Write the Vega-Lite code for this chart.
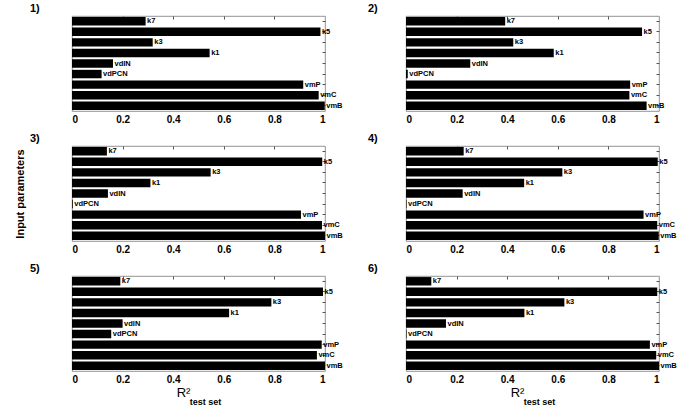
{
  "$schema": "https://vega.github.io/schema/vega-lite/v6.json",
  "background": "white",
  "padding": {"left": 13, "top": 2, "right": 0, "bottom": 0},
  "config": {
    "font": "Liberation Sans",
    "view": {"stroke": "#777777", "strokeWidth": 0.8},
    "axis": {"domain": false, "grid": false, "labelColor": "black", "titleColor": "black", "tickColor": "#555555"},
    "title": {"fontSize": 11, "fontWeight": "bold", "anchor": "start", "frame": "group", "offset": 2, "color": "black"}
  },
  "datasets": {
    "d": [
      {"panel": 1, "param": "k7", "r2": 0.291}, {"panel": 1, "param": "k5", "r2": 0.982}, {"panel": 1, "param": "k3", "r2": 0.319},
      {"panel": 1, "param": "k1", "r2": 0.544}, {"panel": 1, "param": "vdIN", "r2": 0.162}, {"panel": 1, "param": "vdPCN", "r2": 0.117},
      {"panel": 1, "param": "vmP", "r2": 0.914}, {"panel": 1, "param": "vmC", "r2": 0.975}, {"panel": 1, "param": "vmB", "r2": 0.999},
      {"panel": 2, "param": "k7", "r2": 0.392}, {"panel": 2, "param": "k5", "r2": 0.933}, {"panel": 2, "param": "k3", "r2": 0.424},
      {"panel": 2, "param": "k1", "r2": 0.584}, {"panel": 2, "param": "vdIN", "r2": 0.254}, {"panel": 2, "param": "vdPCN", "r2": 0.007},
      {"panel": 2, "param": "vmP", "r2": 0.886}, {"panel": 2, "param": "vmC", "r2": 0.883}, {"panel": 2, "param": "vmB", "r2": 0.951},
      {"panel": 3, "param": "k7", "r2": 0.138}, {"panel": 3, "param": "k5", "r2": 0.989}, {"panel": 3, "param": "k3", "r2": 0.548},
      {"panel": 3, "param": "k1", "r2": 0.31}, {"panel": 3, "param": "vdIN", "r2": 0.142}, {"panel": 3, "param": "vdPCN", "r2": 0.003},
      {"panel": 3, "param": "vmP", "r2": 0.905}, {"panel": 3, "param": "vmC", "r2": 0.988}, {"panel": 3, "param": "vmB", "r2": 1.0},
      {"panel": 4, "param": "k7", "r2": 0.228}, {"panel": 4, "param": "k5", "r2": 0.995}, {"panel": 4, "param": "k3", "r2": 0.618},
      {"panel": 4, "param": "k1", "r2": 0.467}, {"panel": 4, "param": "vdIN", "r2": 0.224}, {"panel": 4, "param": "vdPCN", "r2": 0.002},
      {"panel": 4, "param": "vmP", "r2": 0.939}, {"panel": 4, "param": "vmC", "r2": 0.993}, {"panel": 4, "param": "vmB", "r2": 0.999},
      {"panel": 5, "param": "k7", "r2": 0.191}, {"panel": 5, "param": "k5", "r2": 0.992}, {"panel": 5, "param": "k3", "r2": 0.788},
      {"panel": 5, "param": "k1", "r2": 0.621}, {"panel": 5, "param": "vdIN", "r2": 0.2}, {"panel": 5, "param": "vdPCN", "r2": 0.155},
      {"panel": 5, "param": "vmP", "r2": 0.987}, {"panel": 5, "param": "vmC", "r2": 0.968}, {"panel": 5, "param": "vmB", "r2": 1.0},
      {"panel": 6, "param": "k7", "r2": 0.1}, {"panel": 6, "param": "k5", "r2": 0.993}, {"panel": 6, "param": "k3", "r2": 0.626},
      {"panel": 6, "param": "k1", "r2": 0.468}, {"panel": 6, "param": "vdIN", "r2": 0.158}, {"panel": 6, "param": "vdPCN", "r2": 0.002},
      {"panel": 6, "param": "vmP", "r2": 0.964}, {"panel": 6, "param": "vmC", "r2": 0.989}, {"panel": 6, "param": "vmB", "r2": 1.0}
    ]
  },
  "columns": 2,
  "bounds": "flush",
  "spacing": {"row": 35, "column": 81},
  "concat": [
    {
      "width": 253, "height": 95,
      "title": {"text": "1)", "dx": -42},
      "data": {"name": "d"},
      "transform": [{"filter": "datum.panel == 1"}],
      "layer": [
        {"mark": {"type": "bar", "color": "black"},
         "encoding": {
           "x": {"field": "r2", "type": "quantitative", "scale": {"domain": [0, 1], "nice": false}, "axis": {"orient": "bottom", "values": [0, 0.2, 0.4, 0.6, 0.8, 1], "format": "~g", "labelFontSize": 10, "labelFontWeight": "bold", "ticks": false, "labelPadding": 3, "title": null}},
           "y": {"field": "param", "type": "nominal", "sort": ["k7", "k5", "k3", "k1", "vdIN", "vdPCN", "vmP", "vmC", "vmB"], "scale": {"paddingInner": 0.2, "paddingOuter": 0.1}, "axis": null}}},
        {"mark": {"type": "text", "align": "left", "baseline": "middle", "dx": 1.5, "fontSize": 7.5, "fontWeight": "bold", "color": "black"},
         "encoding": {
           "text": {"field": "param"},
           "x": {"field": "r2", "type": "quantitative", "scale": {"domain": [0, 1], "nice": false}, "axis": {"orient": "top", "values": [0.2, 0.4, 0.6, 0.8], "labels": false, "tickSize": -3, "title": null}},
           "y": {"field": "param", "type": "nominal", "sort": ["k7", "k5", "k3", "k1", "vdIN", "vdPCN", "vmP", "vmC", "vmB"], "scale": {"paddingInner": 0.2, "paddingOuter": 0.1}, "axis": {"orient": "right", "labels": false, "tickSize": -3, "title": null}}}}
      ],
      "resolve": {"axis": {"x": "independent", "y": "independent"}}
    },
    {
      "width": 253, "height": 95,
      "title": {"text": "2)", "dx": -38},
      "data": {"name": "d"},
      "transform": [{"filter": "datum.panel == 2"}],
      "layer": [
        {"mark": {"type": "bar", "color": "black"},
         "encoding": {
           "x": {"field": "r2", "type": "quantitative", "scale": {"domain": [0, 1], "nice": false}, "axis": {"orient": "bottom", "values": [0, 0.2, 0.4, 0.6, 0.8, 1], "format": "~g", "labelFontSize": 10, "labelFontWeight": "bold", "ticks": false, "labelPadding": 3, "title": null}},
           "y": {"field": "param", "type": "nominal", "sort": ["k7", "k5", "k3", "k1", "vdIN", "vdPCN", "vmP", "vmC", "vmB"], "scale": {"paddingInner": 0.2, "paddingOuter": 0.1}, "axis": null}}},
        {"mark": {"type": "text", "align": "left", "baseline": "middle", "dx": 1.5, "fontSize": 7.5, "fontWeight": "bold", "color": "black"},
         "encoding": {
           "text": {"field": "param"},
           "x": {"field": "r2", "type": "quantitative", "scale": {"domain": [0, 1], "nice": false}, "axis": {"orient": "top", "values": [0.2, 0.4, 0.6, 0.8], "labels": false, "tickSize": -3, "title": null}},
           "y": {"field": "param", "type": "nominal", "sort": ["k7", "k5", "k3", "k1", "vdIN", "vdPCN", "vmP", "vmC", "vmB"], "scale": {"paddingInner": 0.2, "paddingOuter": 0.1}, "axis": {"orient": "right", "labels": false, "tickSize": -3, "title": null}}}}
      ],
      "resolve": {"axis": {"x": "independent", "y": "independent"}}
    },
    {
      "width": 253, "height": 95,
      "title": {"text": "3)", "dx": -42},
      "data": {"name": "d"},
      "transform": [{"filter": "datum.panel == 3"}],
      "layer": [
        {"mark": {"type": "bar", "color": "black"},
         "encoding": {
           "x": {"field": "r2", "type": "quantitative", "scale": {"domain": [0, 1], "nice": false}, "axis": {"orient": "bottom", "values": [0, 0.2, 0.4, 0.6, 0.8, 1], "format": "~g", "labelFontSize": 10, "labelFontWeight": "bold", "ticks": false, "labelPadding": 3, "title": null}},
           "y": {"field": "param", "type": "nominal", "sort": ["k7", "k5", "k3", "k1", "vdIN", "vdPCN", "vmP", "vmC", "vmB"], "scale": {"paddingInner": 0.2, "paddingOuter": 0.1}, "axis": {"orient": "left", "labels": false, "ticks": false, "title": "Input parameters", "titleFontSize": 11, "titleFontWeight": "bold", "titlePadding": 47}}}},
        {"mark": {"type": "text", "align": "left", "baseline": "middle", "dx": 1.5, "fontSize": 7.5, "fontWeight": "bold", "color": "black"},
         "encoding": {
           "text": {"field": "param"},
           "x": {"field": "r2", "type": "quantitative", "scale": {"domain": [0, 1], "nice": false}, "axis": {"orient": "top", "values": [0.2, 0.4, 0.6, 0.8], "labels": false, "tickSize": -3, "title": null}},
           "y": {"field": "param", "type": "nominal", "sort": ["k7", "k5", "k3", "k1", "vdIN", "vdPCN", "vmP", "vmC", "vmB"], "scale": {"paddingInner": 0.2, "paddingOuter": 0.1}, "axis": {"orient": "right", "labels": false, "tickSize": -3, "title": null}}}}
      ],
      "resolve": {"axis": {"x": "independent", "y": "independent"}}
    },
    {
      "width": 253, "height": 95,
      "title": {"text": "4)", "dx": -38},
      "data": {"name": "d"},
      "transform": [{"filter": "datum.panel == 4"}],
      "layer": [
        {"mark": {"type": "bar", "color": "black"},
         "encoding": {
           "x": {"field": "r2", "type": "quantitative", "scale": {"domain": [0, 1], "nice": false}, "axis": {"orient": "bottom", "values": [0, 0.2, 0.4, 0.6, 0.8, 1], "format": "~g", "labelFontSize": 10, "labelFontWeight": "bold", "ticks": false, "labelPadding": 3, "title": null}},
           "y": {"field": "param", "type": "nominal", "sort": ["k7", "k5", "k3", "k1", "vdIN", "vdPCN", "vmP", "vmC", "vmB"], "scale": {"paddingInner": 0.2, "paddingOuter": 0.1}, "axis": null}}},
        {"mark": {"type": "text", "align": "left", "baseline": "middle", "dx": 1.5, "fontSize": 7.5, "fontWeight": "bold", "color": "black"},
         "encoding": {
           "text": {"field": "param"},
           "x": {"field": "r2", "type": "quantitative", "scale": {"domain": [0, 1], "nice": false}, "axis": {"orient": "top", "values": [0.2, 0.4, 0.6, 0.8], "labels": false, "tickSize": -3, "title": null}},
           "y": {"field": "param", "type": "nominal", "sort": ["k7", "k5", "k3", "k1", "vdIN", "vdPCN", "vmP", "vmC", "vmB"], "scale": {"paddingInner": 0.2, "paddingOuter": 0.1}, "axis": {"orient": "right", "labels": false, "tickSize": -3, "title": null}}}}
      ],
      "resolve": {"axis": {"x": "independent", "y": "independent"}}
    },
    {
      "width": 253, "height": 95,
      "title": {"text": "5)", "dx": -42},
      "data": {"name": "d"},
      "transform": [{"filter": "datum.panel == 5"}],
      "layer": [
        {"mark": {"type": "bar", "color": "black"},
         "encoding": {
           "x": {"field": "r2", "type": "quantitative", "scale": {"domain": [0, 1], "nice": false}, "axis": {"orient": "bottom", "values": [0, 0.2, 0.4, 0.6, 0.8, 1], "format": "~g", "labelFontSize": 10, "labelFontWeight": "bold", "ticks": false, "labelPadding": 3, "title": "R²", "titleFontSize": 13, "titleFontWeight": "normal", "titleX": 111, "titleY": 25, "titleBaseline": "alphabetic", "titleAlign": "center"}},
           "y": {"field": "param", "type": "nominal", "sort": ["k7", "k5", "k3", "k1", "vdIN", "vdPCN", "vmP", "vmC", "vmB"], "scale": {"paddingInner": 0.2, "paddingOuter": 0.1}, "axis": null}}},
        {"mark": {"type": "text", "align": "left", "baseline": "middle", "dx": 1.5, "fontSize": 7.5, "fontWeight": "bold", "color": "black"},
         "encoding": {
           "text": {"field": "param"},
           "x": {"field": "r2", "type": "quantitative", "scale": {"domain": [0, 1], "nice": false}, "axis": {"orient": "top", "values": [0.2, 0.4, 0.6, 0.8], "labels": false, "tickSize": -3, "title": "test set", "titleFontSize": 9, "titleFontWeight": "bold", "titleX": 133, "titleY": 128, "titleBaseline": "alphabetic", "titleAlign": "center"}},
           "y": {"field": "param", "type": "nominal", "sort": ["k7", "k5", "k3", "k1", "vdIN", "vdPCN", "vmP", "vmC", "vmB"], "scale": {"paddingInner": 0.2, "paddingOuter": 0.1}, "axis": {"orient": "right", "labels": false, "tickSize": -3, "title": null}}}}
      ],
      "resolve": {"axis": {"x": "independent", "y": "independent"}}
    },
    {
      "width": 253, "height": 95,
      "title": {"text": "6)", "dx": -38},
      "data": {"name": "d"},
      "transform": [{"filter": "datum.panel == 6"}],
      "layer": [
        {"mark": {"type": "bar", "color": "black"},
         "encoding": {
           "x": {"field": "r2", "type": "quantitative", "scale": {"domain": [0, 1], "nice": false}, "axis": {"orient": "bottom", "values": [0, 0.2, 0.4, 0.6, 0.8, 1], "format": "~g", "labelFontSize": 10, "labelFontWeight": "bold", "ticks": false, "labelPadding": 3, "title": "R²", "titleFontSize": 13, "titleFontWeight": "normal", "titleX": 111, "titleY": 25, "titleBaseline": "alphabetic", "titleAlign": "center"}},
           "y": {"field": "param", "type": "nominal", "sort": ["k7", "k5", "k3", "k1", "vdIN", "vdPCN", "vmP", "vmC", "vmB"], "scale": {"paddingInner": 0.2, "paddingOuter": 0.1}, "axis": null}}},
        {"mark": {"type": "text", "align": "left", "baseline": "middle", "dx": 1.5, "fontSize": 7.5, "fontWeight": "bold", "color": "black"},
         "encoding": {
           "text": {"field": "param"},
           "x": {"field": "r2", "type": "quantitative", "scale": {"domain": [0, 1], "nice": false}, "axis": {"orient": "top", "values": [0.2, 0.4, 0.6, 0.8], "labels": false, "tickSize": -3, "title": "test set", "titleFontSize": 9, "titleFontWeight": "bold", "titleX": 133, "titleY": 128, "titleBaseline": "alphabetic", "titleAlign": "center"}},
           "y": {"field": "param", "type": "nominal", "sort": ["k7", "k5", "k3", "k1", "vdIN", "vdPCN", "vmP", "vmC", "vmB"], "scale": {"paddingInner": 0.2, "paddingOuter": 0.1}, "axis": {"orient": "right", "labels": false, "tickSize": -3, "title": null}}}}
      ],
      "resolve": {"axis": {"x": "independent", "y": "independent"}}
    }
  ]
}
